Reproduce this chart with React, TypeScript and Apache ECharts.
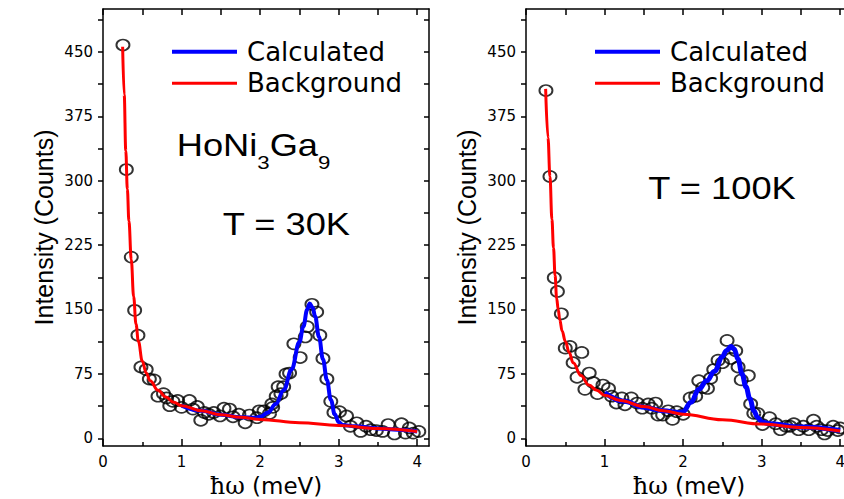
import React, { useEffect, useRef } from "react";
import * as echarts from "echarts";

// ---------- data ----------
const X_MAJOR = [0, 1, 2, 3, 4];
const X_MINOR = [0.5, 1.5, 2.5, 3.5];
const X_TOP = [0, 0.5, 1, 1.5, 2, 2.5, 3, 3.5, 4];
const Y_LABELS = [0, 75, 150, 225, 300, 375, 450];
const Y_TICKS = [0, 37.5, 75, 112.5, 150, 187.5, 225, 262.5, 300, 337.5, 375, 412.5, 450, 487.5];

const OBS_30K: [number, number][] = [
  [0.254, 458], [0.297, 313], [0.36, 211], [0.403, 149], [0.445, 120], [0.483, 83], [0.55, 80],
  [0.59, 69], [0.65, 68], [0.7, 49], [0.77, 52], [0.81, 47], [0.85, 38], [0.89, 43], [0.95, 44],
  [1.0, 36], [1.1, 44], [1.145, 34], [1.2, 37], [1.245, 21], [1.29, 30], [1.345, 28], [1.41, 30],
  [1.49, 26], [1.54, 35], [1.61, 34], [1.655, 25], [1.73, 28], [1.81, 18], [1.865, 27], [1.96, 24],
  [1.99, 32], [2.05, 32], [2.12, 29], [2.15, 40], [2.16, 36], [2.205, 49], [2.23, 60], [2.265, 52],
  [2.3, 60], [2.33, 75], [2.375, 76], [2.43, 110], [2.51, 94], [2.575, 118], [2.6, 130], [2.66, 156],
  [2.72, 147], [2.76, 120], [2.8, 93], [2.85, 69], [2.9, 43], [2.94, 30], [3.01, 31], [3.1, 26],
  [3.15, 14], [3.23, 18], [3.28, 8], [3.35, 14], [3.41, 10], [3.48, 9], [3.56, 8], [3.63, 16],
  [3.71, 5], [3.8, 17], [3.85, 6], [3.9, 12], [3.95, 6], [4.02, 8],
];
const CALC_30K: [number, number][] = [
  [1.0, 38], [1.25, 32], [1.5, 27.5], [1.75, 24.5], [1.95, 24], [2.0, 25], [2.1, 30], [2.2, 40],
  [2.3, 56], [2.4, 80], [2.5, 112], [2.55, 130], [2.6, 150], [2.63, 157], [2.67, 152], [2.7, 142],
  [2.75, 118], [2.8, 92], [2.85, 68], [2.9, 45], [2.95, 28], [3.0, 19], [3.05, 15.5], [3.2, 14],
  [3.5, 11.5], [3.75, 10], [4.0, 8],
];
const BG_30K: [number, number][] = [
  [0.25, 456], [0.27, 400], [0.29, 335], [0.31, 290], [0.33, 253], [0.36, 208], [0.39, 165],
  [0.42, 133], [0.45, 113], [0.5, 90], [0.55, 76], [0.6, 67], [0.7, 56], [0.8, 48], [0.9, 42],
  [1.0, 38], [1.25, 32], [1.5, 27.5], [1.75, 24.5], [2.0, 22], [2.5, 18], [3.0, 15], [3.5, 11.5],
  [4.0, 8],
];

const OBS_100K: [number, number][] = [
  [0.254, 405], [0.305, 305], [0.36, 187], [0.4, 171], [0.45, 145], [0.5, 105], [0.56, 107],
  [0.6, 88], [0.65, 71], [0.71, 100], [0.75, 57], [0.805, 76], [0.856, 65], [0.91, 52], [0.98, 62],
  [1.05, 58], [1.09, 49], [1.15, 41], [1.22, 47], [1.26, 39], [1.34, 47], [1.415, 41], [1.48, 35],
  [1.555, 40], [1.6, 35], [1.65, 41], [1.68, 27], [1.74, 27], [1.81, 32], [1.865, 22], [1.92, 31],
  [2.0, 28], [2.09, 47], [2.16, 49], [2.2, 67], [2.25, 59], [2.31, 58], [2.35, 70], [2.39, 80],
  [2.445, 91], [2.5, 88], [2.56, 114], [2.61, 93], [2.67, 102], [2.7, 83], [2.74, 68], [2.83, 73],
  [2.86, 40], [2.9, 29], [2.95, 29], [3.01, 16], [3.1, 24], [3.18, 17], [3.24, 10], [3.31, 14],
  [3.36, 14], [3.41, 17], [3.47, 10], [3.53, 14], [3.6, 10], [3.66, 21], [3.7, 14], [3.76, 10],
  [3.8, 5], [3.84, 9], [3.91, 14], [3.97, 9], [4.0, 12],
];
const CALC_100K: [number, number][] = [
  [1.0, 53], [1.25, 43], [1.5, 36], [1.75, 32], [1.95, 30], [2.0, 31], [2.1, 42], [2.2, 57],
  [2.3, 67], [2.4, 78], [2.5, 95], [2.55, 102], [2.61, 107], [2.65, 104], [2.7, 92], [2.75, 75],
  [2.8, 60], [2.85, 46], [2.9, 32], [2.95, 24], [3.0, 19], [3.1, 17], [3.5, 13], [4.0, 9],
];
const BG_100K: [number, number][] = [
  [0.25, 407], [0.28, 350], [0.305, 305], [0.33, 255], [0.35, 222], [0.37, 190], [0.39, 163],
  [0.41, 150], [0.43, 138], [0.46, 125], [0.5, 113], [0.55, 100], [0.6, 88], [0.7, 73], [0.8, 62],
  [0.9, 56], [1.0, 50], [1.2, 44], [1.5, 37], [1.75, 32], [2.0, 28], [2.5, 21.5], [3.0, 16.5],
  [3.5, 12.5], [4.0, 8.5],
];

const PANELS = [
  { left: 103, obs: OBS_30K, calc: CALC_30K, bg: BG_30K, calcWidth: 4 },
  { left: 526, obs: OBS_100K, calc: CALC_100K, bg: BG_100K, calcWidth: 5 },
];

const SANS = "DejaVu Sans";
const ARIAL = "Liberation Sans";

export default function App() {
  const ref = useRef<HTMLDivElement>(null);
  useEffect(() => {
    if (!ref.current) return;
    const chart = echarts.init(ref.current, undefined, { renderer: "svg" });
    const grids: any[] = [];
    const xAxes: any[] = [];
    const yAxes: any[] = [];
    const series: any[] = [];
    const legends: any[] = [];
    const black = "#000";
    PANELS.forEach((p, g) => {
      grids.push({ left: p.left, top: 9, width: 326, height: 437, outerBoundsMode: "none" });
      const base = { gridIndex: g, type: "value", min: 0, max: 4.15, splitLine: { show: false } };
      const xi = xAxes.length;
      xAxes.push({
        ...base,
        position: "bottom",
        axisLine: { show: true, onZero: false, lineStyle: { color: black, width: 1.5 } },
        axisTick: { show: true, inside: true, length: 7, customValues: X_MAJOR, lineStyle: { color: black, width: 1.5 } },
        axisLabel: { customValues: X_MAJOR, fontSize: 15, fontFamily: SANS, color: black, margin: 8 },
        name: "{a|ħω}{b| (meV)}",
        nameLocation: "middle",
        nameGap: 25,
        nameTextStyle: {
          lineHeight: 22,
          rich: {
            a: { fontFamily: "DejaVu Serif", fontSize: 24, lineHeight: 22, color: black },
            b: { fontFamily: SANS, fontSize: 23, lineHeight: 22, color: black },
          },
        },
      });
      xAxes.push({
        ...base,
        position: "bottom",
        axisLine: { show: false, onZero: false },
        axisTick: { show: true, inside: true, length: 4, customValues: X_MINOR, lineStyle: { color: black, width: 1.5 } },
        axisLabel: { show: false },
      });
      xAxes.push({
        ...base,
        position: "top",
        axisLine: { show: true, onZero: false, lineStyle: { color: black, width: 1.5 } },
        axisTick: { show: true, inside: true, length: 6, customValues: X_TOP, lineStyle: { color: black, width: 1.5 } },
        axisLabel: { show: false },
      });
      const ybase = { gridIndex: g, type: "value", min: -9, max: 500, splitLine: { show: false } };
      const yi = yAxes.length;
      yAxes.push({
        ...ybase,
        position: "left",
        axisLine: { show: true, onZero: false, lineStyle: { color: black, width: 1.5 } },
        axisTick: { show: true, inside: false, length: 5, customValues: Y_TICKS, lineStyle: { color: black, width: 1.5 } },
        axisLabel: { customValues: Y_LABELS, fontSize: 15, fontFamily: SANS, color: black, margin: 10 },
        name: "Intensity (Counts)",
        nameLocation: "middle",
        nameGap: 47,
        nameTextStyle: { fontFamily: ARIAL, fontSize: 25, color: black },
      });
      yAxes.push({
        ...ybase,
        position: "right",
        axisLine: { show: true, onZero: false, lineStyle: { color: black, width: 1.5 } },
        axisTick: { show: true, inside: true, length: 5, customValues: Y_TICKS, lineStyle: { color: black, width: 1.5 } },
        axisLabel: { show: false },
      });
      series.push({
        type: "scatter",
        name: "Data",
        xAxisIndex: xi,
        yAxisIndex: yi,
        data: p.obs,
        symbol: "circle",
        symbolSize: [13, 11],
        itemStyle: { color: "rgba(0,0,0,0)", borderColor: black, borderWidth: 1.8 },
        silent: true,
      });
      series.push({
        type: "line",
        name: "Calculated",
        xAxisIndex: xi,
        yAxisIndex: yi,
        data: p.calc,
        symbol: "none",
        showSymbol: false,
        smooth: 0.4,
        smoothMonotone: "x",
        lineStyle: { color: "#0000ff", width: p.calcWidth },
        itemStyle: { color: "#0000ff" },
      });
      series.push({
        type: "line",
        name: "Background",
        xAxisIndex: xi,
        yAxisIndex: yi,
        data: p.bg,
        symbol: "none",
        showSymbol: false,
        smooth: 0.4,
        smoothMonotone: "x",
        lineStyle: { color: "#ff0000", width: 3 },
        itemStyle: { color: "#ff0000" },
      });
      legends.push({
        left: p.left + 67,
        top: 38.7,
        orient: "vertical",
        itemWidth: 65,
        itemHeight: 14,
        itemGap: 5.6,
        padding: 0,
        selectedMode: false,
        itemStyle: { opacity: 0 },
        data: [
          { name: "Calculated", lineStyle: { width: 4, color: "#0000ff" } },
          { name: "Background", lineStyle: { width: 3, color: "#ff0000" } },
        ],
        textStyle: { fontFamily: SANS, fontSize: 26, color: black, lineHeight: 26, padding: [0, 0, 0, 5] },
      });
    });

    chart.setOption({
      animation: false,
      backgroundColor: "#fff",
      grid: grids,
      xAxis: xAxes,
      yAxis: yAxes,
      legend: legends,
      series,
      graphic: [
        {
          type: "text",
          x: 176.7,
          y: 129.5,
          scaleX: 1.17,
          style: {
            text: "{n|HoNi}{s|3}{n|Ga}{s|9}",
            verticalAlign: "top",
            align: "left",
            fill: black,
            rich: {
              n: { fontFamily: ARIAL, fontSize: 31, lineHeight: 36, verticalAlign: "top", fill: black },
              s: { fontFamily: ARIAL, fontSize: 19, lineHeight: 19, padding: [23, 0, 0, 0], verticalAlign: "top", fill: black },
            },
          },
        },
        {
          type: "text",
          x: 222.7,
          y: 224,
          scaleX: 1.17,
          style: { text: "T = 30K", fontFamily: ARIAL, fontSize: 31, fill: black, verticalAlign: "middle", align: "left" },
        },
        {
          type: "text",
          x: 648.3,
          y: 187.5,
          scaleX: 1.17,
          style: { text: "T = 100K", fontFamily: ARIAL, fontSize: 31, fill: black, verticalAlign: "middle", align: "left" },
        },
      ],
    });
    return () => chart.dispose();
  }, []);
  return <div ref={ref} style={{ position: "absolute", left: 0, top: 0, width: 844, height: 499 }} />;
}
